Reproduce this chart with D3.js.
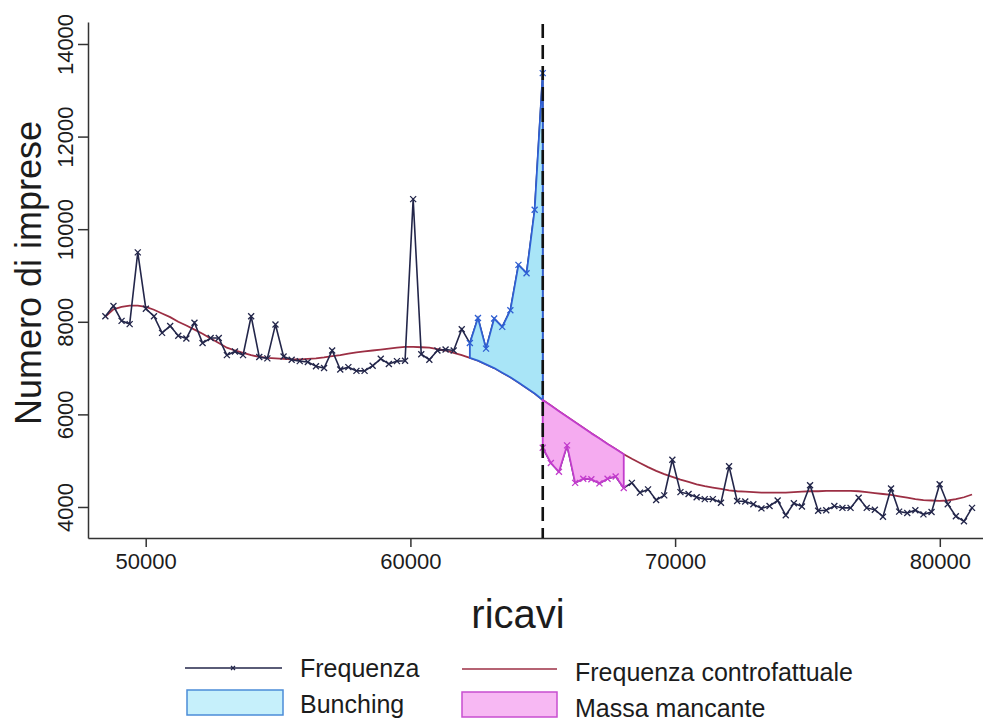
<!DOCTYPE html>
<html>
<head>
<meta charset="utf-8">
<script src="https://cdn.jsdelivr.net/npm/d3@7"></script>
<style>
	body { margin: 0; background: #ffffff; }
	text { font-family: "Liberation Sans", Arial, sans-serif; fill: #1c1c1c; }
</style>
</head>
<body>
<svg id="grafico" width="983" height="726"></svg>
<script>
/* DATA: frequency per bin, left and right of the threshold (the right side starts again at the threshold) */
var soglia = 65000;
var ampiezza_Bin = 306;

var frequenza_Sinistra = [8120, 8340, 8020, 7950, 9500, 8280, 8120, 7760, 7910, 7700,
						  7640, 7980, 7540, 7650, 7650, 7280, 7360, 7280, 8120, 7240,
						  7210, 7940, 7250, 7180, 7150, 7130, 7040, 7000, 7380, 6970,
						  7020, 6940, 6940, 7050, 7200, 7090, 7150, 7160, 10650, 7300,
						  7180, 7380, 7400, 7380, 7840, 7540, 8080, 7420, 8070, 7890,
						  8250, 9230, 9050, 10420, 13370];

var frequenza_Destra = [5280, 4950, 4760, 5330, 4520, 4610, 4600, 4510, 4610, 4660,
						4410, 4520, 4310, 4380, 4150, 4250, 5020, 4320, 4280, 4210,
						4170, 4170, 4090, 4880, 4130, 4120, 4060, 3970, 4020, 4140,
						3820, 4080, 4010, 4470, 3920, 3930, 4020, 3980, 3980, 4200,
						3980, 3940, 3790, 4400, 3900, 3870, 3930, 3840, 3890, 4490,
						4060, 3800, 3690, 3980];

var controfattuale_Sinistra = [8110, 8270, 8320, 8350, 8350, 8320, 8260, 8180, 8100, 8000,
							   7920, 7830, 7740, 7640, 7540, 7440, 7380, 7330, 7280, 7240,
							   7220, 7210, 7200, 7190, 7190, 7200, 7210, 7230, 7260, 7280,
							   7310, 7340, 7360, 7380, 7400, 7420, 7440, 7460, 7460, 7450,
							   7440, 7410, 7380, 7330, 7280, 7220, 7160, 7080, 7000, 6900,
							   6800, 6690, 6570, 6450, 6310];

var controfattuale_Destra = [6310, 6190, 6070, 5950, 5830, 5710, 5590, 5480, 5360, 5250,
							 5140, 5040, 4950, 4860, 4780, 4710, 4650, 4590, 4540, 4490,
							 4450, 4420, 4390, 4360, 4340, 4330, 4320, 4310, 4310, 4310,
							 4310, 4320, 4330, 4340, 4340, 4350, 4350, 4350, 4350, 4340,
							 4320, 4300, 4280, 4260, 4230, 4200, 4170, 4150, 4140, 4130,
							 4140, 4170, 4210, 4270];

/* first bin of the bunching area (left side) and last bin of the missing mass (right side) */
var inizio_Bunching = 45;
var fine_Mancante = 10;

var x_Ticks = [50000, 60000, 70000, 80000];
var y_Ticks = [4000, 6000, 8000, 10000, 12000, 14000];

var etichetta_X = "ricavi";
var etichetta_Y = "Numero di imprese";
var legenda_Voci = ["Frequenza", "Frequenza controfattuale", "Bunching", "Massa mancante"];

/* COLOURS */
var colore_Frequenza = "#23264a";
var colore_Contro = "#9c2f44";
var colore_Bunching = "#a9e5f7";
var bordo_Bunching = "#2f5fd3";
var colore_Mancante = "#f5abf0";
var bordo_Mancante = "#c23ccc";

var svg = d3.select("#grafico");

var x_Scale = d3.scaleLinear().domain([47820, 81632]).range([88, 983]);
var y_Scale = d3.scaleLinear().domain([3330, 14475]).range([538, 22]);

/* bins */
var punti_Sinistra = frequenza_Sinistra.map(function(valore, indice){
	return { x: soglia - (frequenza_Sinistra.length - 1 - indice) * ampiezza_Bin,
			 f: valore,
			 c: controfattuale_Sinistra[indice] };
});
var punti_Destra = frequenza_Destra.map(function(valore, indice){
	return { x: soglia + indice * ampiezza_Bin,
			 f: valore,
			 c: controfattuale_Destra[indice] };
});
var punti_Bunching = punti_Sinistra.slice(inizio_Bunching);
var punti_Mancante = punti_Destra.slice(0, fine_Mancante + 1);

/* AXES */
var asse_Y = svg.append("g")
				.attr("transform", "translate(88,0)")
				.call(d3.axisLeft(y_Scale).tickValues(y_Ticks).tickSize(10).tickSizeOuter(0).tickFormat(d3.format("d")));

asse_Y.selectAll("text")
	  .attr("x", null).attr("dy", null)
	  .attr("transform", "translate(-15,0) rotate(-90)")
	  .attr("text-anchor", "middle")
	  .style("font-size", "22px");

var asse_X = svg.append("g")
				.attr("transform", "translate(0,538)")
				.call(d3.axisBottom(x_Scale).tickValues(x_Ticks).tickSize(9).tickSizeOuter(0).tickPadding(6).tickFormat(d3.format("d")));

asse_X.selectAll("text").style("font-size", "22px");

svg.selectAll(".domain, .tick line").attr("stroke", "#333333").attr("stroke-width", 1.5);

svg.append("text")
   .attr("transform", "translate(41,273) rotate(-90)")
   .attr("text-anchor", "middle")
   .style("font-size", "36px")
   .text(etichetta_Y);

svg.append("text")
   .attr("x", 518).attr("y", 628)
   .attr("text-anchor", "middle")
   .style("font-size", "40px")
   .text(etichetta_X);

/* LINES */
var linea_Frequenza = d3.line().x(function(d){ return x_Scale(d.x); }).y(function(d){ return y_Scale(d.f); });
var linea_Contro = d3.line().x(function(d){ return x_Scale(d.x); }).y(function(d){ return y_Scale(d.c); });

svg.append("path")
   .attr("d", linea_Contro(punti_Sinistra.concat(punti_Destra.slice(1))))
   .attr("fill", "none")
   .attr("stroke", colore_Contro)
   .attr("stroke-width", 1.8);

svg.append("path")
   .attr("d", linea_Frequenza(punti_Sinistra.concat(punti_Destra)))
   .attr("fill", "none")
   .attr("stroke", colore_Frequenza)
   .attr("stroke-width", 1.6);

/* area between frequency and counterfactual: frequency forward, counterfactual back */
function poligono(punti){
	var contorno = punti.map(function(d){ return [x_Scale(d.x), y_Scale(d.f)]; })
						.concat(punti.slice().reverse().map(function(d){ return [x_Scale(d.x), y_Scale(d.c)]; }));
	return "M" + contorno.join("L") + "Z";
}

svg.append("path")
   .attr("d", poligono(punti_Bunching))
   .attr("fill", colore_Bunching)
   .attr("stroke", bordo_Bunching)
   .attr("stroke-width", 1.8)
   .attr("stroke-linejoin", "round");

svg.append("path")
   .attr("d", poligono(punti_Mancante))
   .attr("fill", colore_Mancante)
   .attr("stroke", bordo_Mancante)
   .attr("stroke-width", 1.8)
   .attr("stroke-linejoin", "round");

/* MARKERS */
var croce = "M-3,-3L3,3M-3,3L3,-3";

function colore_Marker(d, lato, indice){
	if(lato == "s" && indice >= inizio_Bunching) return bordo_Bunching;
	if(lato == "d" && indice <= fine_Mancante) return bordo_Mancante;
	return colore_Frequenza;
}

svg.append("g").selectAll("path")
   .data(punti_Sinistra)
   .enter().append("path")
   .attr("d", croce)
   .attr("transform", function(d){ return "translate(" + x_Scale(d.x) + "," + y_Scale(d.f) + ")"; })
   .attr("stroke", function(d, i){ return colore_Marker(d, "s", i); })
   .attr("stroke-width", 1.3);

svg.append("g").selectAll("path")
   .data(punti_Destra)
   .enter().append("path")
   .attr("d", croce)
   .attr("transform", function(d){ return "translate(" + x_Scale(d.x) + "," + y_Scale(d.f) + ")"; })
   .attr("stroke", function(d, i){ return colore_Marker(d, "d", i); })
   .attr("stroke-width", 1.3);

/* threshold */
svg.append("line")
   .attr("x1", x_Scale(soglia)).attr("x2", x_Scale(soglia))
   .attr("y1", 24).attr("y2", 538)
   .attr("stroke", "#111111")
   .attr("stroke-width", 2.6)
   .attr("stroke-dasharray", "14,7");

/* LEGEND */
var legenda = svg.append("g");

legenda.append("line")
	   .attr("x1", 185).attr("x2", 282).attr("y1", 668).attr("y2", 668)
	   .attr("stroke", colore_Frequenza).attr("stroke-width", 1.6);
legenda.append("path")
	   .attr("d", "M-2,-2L2,2M-2,2L2,-2")
	   .attr("transform", "translate(233,668)")
	   .attr("stroke", colore_Frequenza).attr("stroke-width", 1.3);
legenda.append("line")
	   .attr("x1", 462).attr("x2", 557).attr("y1", 669).attr("y2", 669)
	   .attr("stroke", colore_Contro).attr("stroke-width", 1.6);

legenda.append("rect")
	   .attr("x", 187).attr("y", 690).attr("width", 96).attr("height", 25)
	   .attr("fill", "#c6f0fb").attr("stroke", "#4b8cd8").attr("stroke-width", 1.5);
legenda.append("rect")
	   .attr("x", 462).attr("y", 692).attr("width", 95).attr("height", 25)
	   .attr("fill", "#f7b8f3").attr("stroke", "#c84ed0").attr("stroke-width", 1.5);

var posizioni_Testo = [[300, 677], [575, 681], [300, 713], [575, 717]];

legenda.selectAll("text.voce")
	   .data(legenda_Voci)
	   .enter().append("text")
	   .attr("class", "voce")
	   .attr("x", function(d, i){ return posizioni_Testo[i][0]; })
	   .attr("y", function(d, i){ return posizioni_Testo[i][1]; })
	   .style("font-size", "25px")
	   .text(function(d){ return d; });
</script>
</body>
</html>
